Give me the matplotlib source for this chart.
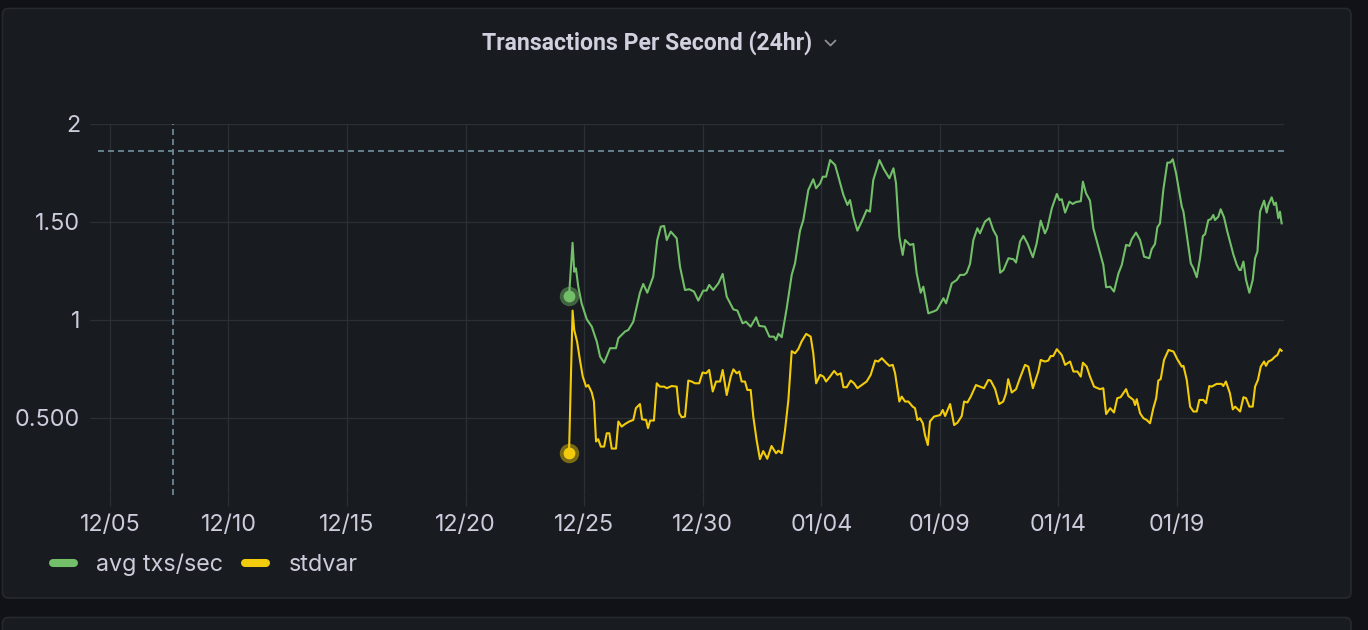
import matplotlib
matplotlib.use("Agg")
import matplotlib.pyplot as plt
import matplotlib.dates as mdates
from matplotlib.patches import FancyBboxPatch
from matplotlib.lines import Line2D
import pandas as pd

plt.rcParams['font.family'] = ['Inter', 'DejaVu Sans']
plt.rcParams['lines.scale_dashes'] = False

# ---------------- data ----------------
title = "Transactions Per Second (24hr)"
base_date = "2021-12-05"
series_names = ["avg txs/sec", "stdvar"]
series_colors = ["#73BF69", "#F2CC0C"]

# day offsets from base_date
avg_days = [19.36, 19.51, 19.58, 19.65, 19.75, 19.89, 20.11, 20.32, 20.53, 20.67, 20.84, 21.09, 21.34, 21.44,
            21.72, 21.86, 22.07, 22.35, 22.49, 22.66, 22.91, 23.08, 23.23, 23.37, 23.48, 23.65, 23.90, 24.04,
            24.25, 24.43, 24.63, 24.81, 25.02, 25.16, 25.27, 25.44, 25.66, 25.84, 26.01, 26.29, 26.46, 26.68,
            26.82, 27.02, 27.25, 27.38, 27.62, 27.81, 28.00, 28.09, 28.19, 28.33, 28.54, 28.75, 28.89, 29.10,
            29.24, 29.45, 29.66, 29.78, 29.95, 30.06, 30.20, 30.37, 30.58, 30.72, 30.93, 31.10, 31.21, 31.35,
            31.52, 31.70, 31.91, 32.05, 32.19, 32.45, 32.64, 32.87, 33.04, 33.15, 33.29, 33.43, 33.53, 33.74,
            33.88, 34.02, 34.19, 34.30, 34.51, 34.72, 34.87, 35.15, 35.26, 35.50, 35.71, 35.85, 36.02, 36.13,
            36.27, 36.41, 36.58, 36.69, 36.90, 37.08, 37.25, 37.40, 37.54, 37.68, 37.89, 38.10, 38.21, 38.38,
            38.52, 38.69, 38.92, 39.08, 39.25, 39.43, 39.53, 39.72, 39.93, 40.04, 40.14, 40.28, 40.46, 40.60,
            40.74, 40.94, 41.03, 41.16, 41.33, 41.47, 41.68, 41.89, 42.01, 42.18, 42.34, 42.53, 42.67, 42.85,
            42.99, 43.09, 43.27, 43.44, 43.61, 43.83, 43.93, 44.07, 44.17, 44.28, 44.42, 44.59, 44.71, 44.82,
            44.96, 45.20, 45.27, 45.41, 45.58, 45.69, 45.83, 45.97, 46.09, 46.18, 46.32, 46.42, 46.53, 46.60,
            46.74, 46.84, 46.98, 47.12, 47.38, 47.52, 47.63, 47.69, 47.80, 47.91, 48.05, 48.19, 48.29, 48.39,
            48.50, 48.67, 48.78, 48.85, 48.99, 49.09, 49.17, 49.27, 49.34, 49.41]
avg_vals = [1.122, 1.394, 1.246, 1.264, 1.170, 1.085, 1.003, 0.966, 0.890, 0.813, 0.782, 0.856, 0.856, 0.907,
            0.941, 0.949, 0.991, 1.139, 1.184, 1.139, 1.221, 1.408, 1.476, 1.480, 1.408, 1.451, 1.417, 1.272,
            1.153, 1.157, 1.145, 1.099, 1.150, 1.150, 1.179, 1.153, 1.187, 1.235, 1.119, 1.054, 1.048, 0.983,
            0.991, 0.966, 1.014, 0.970, 0.966, 0.915, 0.915, 0.898, 0.930, 0.912, 1.060, 1.230, 1.289, 1.455,
            1.510, 1.663, 1.718, 1.672, 1.697, 1.731, 1.731, 1.816, 1.791, 1.731, 1.638, 1.587, 1.612, 1.527,
            1.456, 1.502, 1.561, 1.553, 1.714, 1.816, 1.769, 1.723, 1.774, 1.697, 1.426, 1.332, 1.408, 1.383,
            1.388, 1.238, 1.139, 1.170, 1.034, 1.043, 1.051, 1.111, 1.085, 1.187, 1.204, 1.230, 1.230, 1.241,
            1.286, 1.408, 1.468, 1.442, 1.502, 1.519, 1.459, 1.426, 1.241, 1.255, 1.315, 1.310, 1.293, 1.400,
            1.429, 1.391, 1.320, 1.391, 1.507, 1.442, 1.468, 1.570, 1.643, 1.612, 1.616, 1.548, 1.604, 1.592,
            1.602, 1.606, 1.706, 1.647, 1.609, 1.468, 1.374, 1.281, 1.167, 1.170, 1.145, 1.238, 1.281, 1.383,
            1.378, 1.412, 1.446, 1.408, 1.323, 1.315, 1.361, 1.388, 1.473, 1.493, 1.663, 1.803, 1.803, 1.820,
            1.748, 1.578, 1.553, 1.434, 1.289, 1.264, 1.218, 1.315, 1.429, 1.437, 1.510, 1.514, 1.536, 1.510,
            1.527, 1.565, 1.524, 1.451, 1.332, 1.281, 1.255, 1.255, 1.298, 1.204, 1.139, 1.204, 1.315, 1.349,
            1.553, 1.609, 1.548, 1.587, 1.626, 1.587, 1.599, 1.519, 1.553, 1.493]

std_days = [19.36, 19.51, 19.58, 19.70, 19.82, 19.94, 20.08, 20.17, 20.32, 20.41, 20.50, 20.59, 20.70, 20.84,
            20.95, 21.06, 21.16, 21.34, 21.44, 21.58, 21.72, 21.90, 22.07, 22.18, 22.35, 22.44, 22.61, 22.69,
            22.78, 22.94, 23.06, 23.19, 23.37, 23.48, 23.69, 23.90, 24.01, 24.11, 24.25, 24.39, 24.53, 24.67,
            24.85, 24.99, 25.14, 25.27, 25.42, 25.56, 25.73, 25.84, 26.01, 26.18, 26.29, 26.43, 26.54, 26.64,
            26.78, 26.88, 27.02, 27.13, 27.27, 27.41, 27.55, 27.72, 27.90, 28.09, 28.19, 28.33, 28.47, 28.61,
            28.75, 28.89, 29.03, 29.17, 29.36, 29.55, 29.66, 29.78, 29.95, 30.09, 30.20, 30.37, 30.54, 30.68,
            30.82, 30.93, 31.07, 31.24, 31.38, 31.52, 31.70, 31.91, 32.08, 32.27, 32.40, 32.55, 32.73, 32.87,
            33.01, 33.11, 33.29, 33.39, 33.53, 33.67, 33.85, 33.95, 34.05, 34.16, 34.28, 34.37, 34.49, 34.58,
            34.75, 35.01, 35.12, 35.22, 35.43, 35.60, 35.74, 35.92, 36.02, 36.16, 36.30, 36.52, 36.69, 36.86,
            37.04, 37.14, 37.33, 37.50, 37.67, 37.79, 37.88, 38.03, 38.21, 38.38, 38.59, 38.73, 38.92, 39.15,
            39.25, 39.43, 39.57, 39.67, 39.78, 39.93, 40.14, 40.28, 40.38, 40.49, 40.63, 40.80, 40.94, 41.03,
            41.19, 41.33, 41.50, 41.75, 41.89, 42.01, 42.18, 42.34, 42.48, 42.62, 42.85, 42.95, 43.16, 43.23,
            43.30, 43.44, 43.58, 43.72, 43.86, 44.00, 44.12, 44.21, 44.31, 44.45, 44.64, 44.85, 45.01, 45.20,
            45.27, 45.41, 45.55, 45.69, 45.83, 45.94, 46.11, 46.22, 46.36, 46.46, 46.67, 46.88, 46.95, 47.06,
            47.23, 47.35, 47.45, 47.66, 47.80, 47.91, 48.05, 48.19, 48.29, 48.41, 48.53, 48.67, 48.75, 48.85,
            48.99, 49.13, 49.23, 49.34, 49.41]
std_vals = [0.323, 1.048, 0.949, 0.890, 0.796, 0.711, 0.660, 0.668, 0.630, 0.584, 0.380, 0.392, 0.354, 0.354,
            0.422, 0.422, 0.344, 0.344, 0.482, 0.456, 0.469, 0.482, 0.490, 0.550, 0.571, 0.493, 0.490, 0.448,
            0.487, 0.487, 0.677, 0.660, 0.660, 0.652, 0.663, 0.660, 0.524, 0.504, 0.507, 0.691, 0.686, 0.677,
            0.677, 0.732, 0.728, 0.745, 0.635, 0.686, 0.686, 0.745, 0.617, 0.711, 0.748, 0.728, 0.737, 0.686,
            0.686, 0.643, 0.643, 0.507, 0.388, 0.290, 0.331, 0.292, 0.357, 0.320, 0.333, 0.320, 0.439, 0.592,
            0.841, 0.830, 0.852, 0.891, 0.929, 0.915, 0.830, 0.677, 0.720, 0.711, 0.686, 0.712, 0.740, 0.720,
            0.728, 0.657, 0.657, 0.691, 0.677, 0.652, 0.668, 0.686, 0.720, 0.793, 0.788, 0.805, 0.782, 0.766,
            0.771, 0.728, 0.584, 0.609, 0.584, 0.584, 0.558, 0.550, 0.490, 0.499, 0.473, 0.413, 0.362, 0.482,
            0.507, 0.515, 0.541, 0.510, 0.571, 0.464, 0.476, 0.510, 0.584, 0.579, 0.609, 0.668, 0.660, 0.652,
            0.694, 0.691, 0.647, 0.571, 0.584, 0.626, 0.698, 0.630, 0.647, 0.705, 0.771, 0.762, 0.652, 0.737,
            0.796, 0.788, 0.793, 0.816, 0.816, 0.851, 0.821, 0.771, 0.779, 0.788, 0.737, 0.737, 0.711, 0.782,
            0.762, 0.711, 0.660, 0.647, 0.652, 0.520, 0.550, 0.528, 0.601, 0.606, 0.647, 0.612, 0.592, 0.566,
            0.596, 0.524, 0.499, 0.490, 0.473, 0.550, 0.601, 0.691, 0.698, 0.796, 0.847, 0.839, 0.800, 0.762,
            0.766, 0.694, 0.558, 0.533, 0.533, 0.592, 0.592, 0.575, 0.663, 0.660, 0.674, 0.674, 0.663, 0.686,
            0.626, 0.544, 0.558, 0.533, 0.606, 0.601, 0.558, 0.558, 0.660, 0.694, 0.762, 0.788, 0.766, 0.788,
            0.796, 0.813, 0.821, 0.851, 0.843]

threshold_value = 1.862
marker_day = 2.65
y_ticks = [0.5, 1.0, 1.5, 2.0]
y_tick_labels = ["0.500", "1", "1.50", "2"]
x_tick_day_step = 5
x_tick_count = 10
x_range_days = (-0.84, 49.51)
y_range = (0.107, 2.0)

# ---------------- style ----------------
OUTER_BG = "#111217"
PANEL_BG = "#181b1f"
PANEL_BORDER = "#26292e"
GRID = "#2c2f34"
TEXT = "#ccccdc"
DASH = "#6c8896"
FS = 16.8

W, H = 1368, 630
fig = plt.figure(figsize=(W / 100, H / 100), dpi=100, facecolor=OUTER_BG)

# background panels in pixel coordinates
bg = fig.add_axes([0, 0, 1, 1], zorder=-5)
bg.set_xlim(0, W)
bg.set_ylim(H, 0)
bg.axis("off")
bg.add_patch(FancyBboxPatch((2.5, 8.5), 1348.5, 589.5, boxstyle="round,pad=0,rounding_size=6",
                            facecolor=PANEL_BG, edgecolor=PANEL_BORDER, linewidth=1.2))
bg.add_patch(FancyBboxPatch((2.5, 617.5), 1348.5, 40, boxstyle="round,pad=0,rounding_size=6",
                            facecolor=PANEL_BG, edgecolor=PANEL_BORDER, linewidth=1.2))
# title and chevron
bg.text(812, 43, title, ha="right", va="center", fontsize=16.6, color="#d0d0de",
        family=["Roboto", "DejaVu Sans"], fontweight="bold")
bg.plot([825.5, 830.5, 835.5], [40.5, 45.5, 40.5], color="#8e9096", lw=1.3, solid_capstyle="round")

# main axes
left, right, top, bottom = 90, 1284, 124, 495
ax = fig.add_axes([left / W, 1 - bottom / H, (right - left) / W, (bottom - top) / H])
ax.set_facecolor("none")
for s in ax.spines.values():
    s.set_visible(False)

t0 = pd.Timestamp(base_date)
to_time = lambda days: [t0 + pd.Timedelta(days=d) for d in days]

avg_t = to_time(avg_days)
std_t = to_time(std_days)

ax.plot(avg_t, avg_vals, color=series_colors[0], lw=1.5, zorder=4, solid_joinstyle="round")
ax.plot(std_t, std_vals, color=series_colors[1], lw=1.5, zorder=4, solid_joinstyle="round")

# first-point markers with halo
for t, v, c in [(avg_t[0], avg_vals[0], series_colors[0]), (std_t[0], std_vals[0], series_colors[1])]:
    ax.plot([t], [v], marker="o", markersize=14, color=c, alpha=0.45, zorder=5, markeredgewidth=0)
    ax.plot([t], [v], marker="o", markersize=8.5, color=c, zorder=6, markeredgewidth=0)

# threshold dashed lines
ax.axhline(threshold_value, xmin=0.0067, xmax=1, color=DASH, lw=1.3, dashes=(4.3, 2.9), zorder=3)
ax.axvline(t0 + pd.Timedelta(days=marker_day), color=DASH, lw=1.3, dashes=(4.3, 2.9), zorder=3)

ax.set_xlim(t0 + pd.Timedelta(days=x_range_days[0]), t0 + pd.Timedelta(days=x_range_days[1]))
ax.set_ylim(*y_range)

xticks = [t0 + pd.Timedelta(days=x_tick_day_step * k) for k in range(x_tick_count)]
ax.set_xticks(xticks)
ax.xaxis.set_major_formatter(mdates.DateFormatter("%m/%d"))
ax.set_yticks(y_ticks)
ax.set_yticklabels(y_tick_labels)

ax.grid(True, color=GRID, lw=0.9, zorder=0)
ax.tick_params(axis="x", length=8, width=0.9, color=GRID, labelcolor=TEXT, labelsize=FS, pad=6)
ax.tick_params(axis="y", length=0, labelcolor=TEXT, labelsize=FS, pad=7)

# legend
handles = [Line2D([0], [0], color=c, lw=5.8, solid_capstyle="round") for c in series_colors]
leg = fig.legend(handles, series_names, loc="center left", bbox_to_anchor=(53 / W, 1 - 565 / H),
                 ncol=2, frameon=False, fontsize=FS, handlelength=0.9, handletextpad=0.95,
                 columnspacing=0.95, borderpad=0, borderaxespad=0)
for txt in leg.get_texts():
    txt.set_color(TEXT)

fig.savefig("out.png", dpi=100, facecolor=OUTER_BG)
